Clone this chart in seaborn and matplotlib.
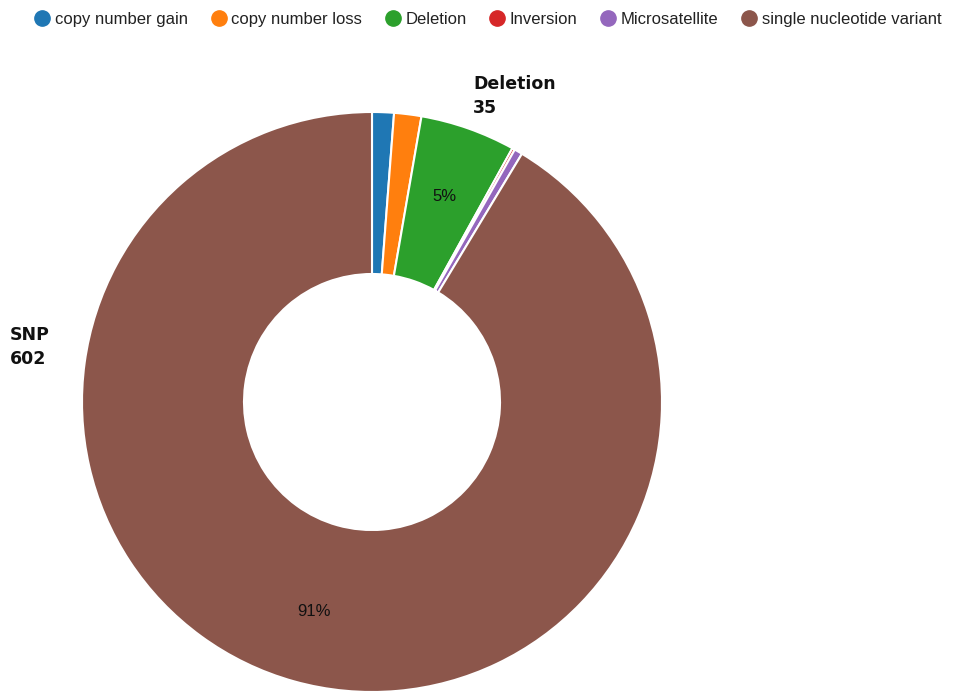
import matplotlib.pyplot as plt
import seaborn as sns
from matplotlib.lines import Line2D

categories = ['copy number gain', 'copy number loss', 'Deletion', 'Inversion',
              'Microsatellite', 'single nucleotide variant']
counts = [8, 10, 35, 1, 3, 602]
short_names = ['', '', 'Deletion', '', '', 'SNP']

sns.set_theme(style='white')
plt.rcParams['font.family'] = ['Liberation Sans', 'DejaVu Sans']

colors = sns.color_palette('tab10', 6)

fig = plt.figure(figsize=(9.56, 6.93), dpi=100)
ax = fig.add_axes([0, 0, 1, 1])


def pct_label(p):
    return f'{p:.0f}%' if p >= 4 else ''


wedges, texts, autotexts = ax.pie(
    counts, colors=colors, startangle=90, counterclock=False,
    center=(372, 291), radius=290, frame=True,
    wedgeprops=dict(width=162, edgecolor='white', linewidth=1.5),
    autopct=pct_label, pctdistance=0.75,
    textprops=dict(fontsize=12, color='#111111'))
ax.set_xlim(0, 956)
ax.set_ylim(0, 693)
ax.set_aspect('equal')
ax.axis('off')

# bold name/count labels for the big slices
ax.text(473, 618, f'{short_names[2]}\n{counts[2]}', fontsize=12.5, fontweight='bold',
        family='DejaVu Sans', color='#111111', ha='left', va='top', linespacing=1.4)
ax.text(10, 367, f'{short_names[5]}\n{counts[5]}', fontsize=12.5, fontweight='bold',
        family='DejaVu Sans', color='#111111', ha='left', va='top', linespacing=1.4)

handles = [Line2D([0], [0], marker='o', color='none', markerfacecolor=c,
                  markeredgecolor=c, markersize=11) for c in colors]
fig.legend(handles, categories, loc='upper center', bbox_to_anchor=(0.511, 0.997),
           ncol=6, frameon=False, fontsize=12, handlelength=0.8,
           handletextpad=0.35, columnspacing=1.45, borderaxespad=0.2,
           labelcolor='#222222')

fig.savefig('out.png', dpi=100, facecolor='white')
